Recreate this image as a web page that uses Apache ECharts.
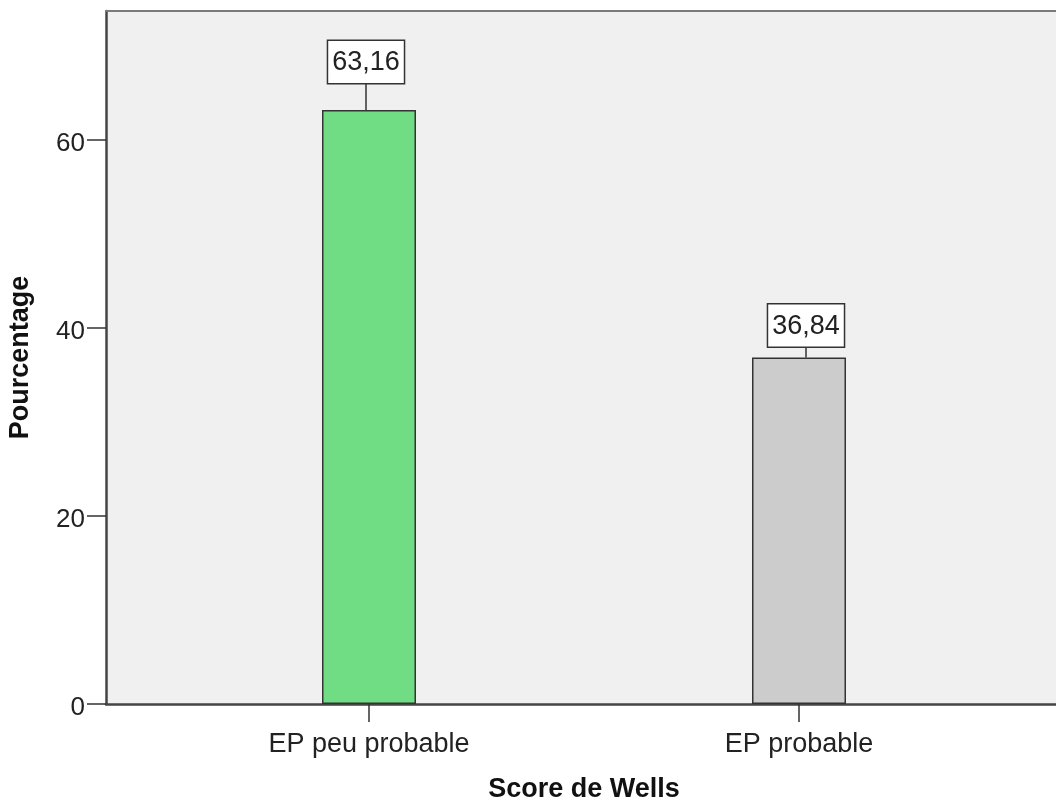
<!DOCTYPE html>
<html>
<head>
<meta charset="utf-8">
<script src="https://cdn.jsdelivr.net/npm/echarts@6/dist/echarts.min.js"></script>
<style>
  html, body { margin: 0; padding: 0; background: #ffffff; }
  #chart { width: 1056px; height: 800px; }
</style>
</head>
<body>
<div id="chart"></div>
<script>
// Score de Wells: share of patients per category (%)
const categories = ['EP peu probable', 'EP probable'];
const percentages = [63.16, 36.84];
const yTicks = [0, 20, 40, 60];

// Per-bar styling
const barColors = ['#70dc84', '#cccccc'];
const leaderLength = [27, 11];   // px between bar top and value box
const leaderShift = [-3, 7];     // px horizontal shift of the value box

const FONT = "'Liberation Sans', Arial, sans-serif";
const Y_MAX = 73.7;

const fmt = v => v.toFixed(2).replace('.', ',');

const chart = echarts.init(document.getElementById('chart'), null, { renderer: 'canvas' });

chart.setOption({
  animation: false,
  backgroundColor: '#ffffff',
  grid: [
    // frame + background, running past the right edge
    { left: 106, top: 11, bottom: 96, right: -40, show: true,
      outerBoundsMode: 'none', containLabel: false,
      backgroundColor: '#f0f0f0', borderWidth: 0 },
    // bar area
    { left: 154, top: 11, bottom: 96, right: 42,
      outerBoundsMode: 'none', containLabel: false }
  ],
  xAxis: [
    { gridIndex: 0, type: 'value', min: 0, max: 1, position: 'bottom',
      axisLine: { show: true, onZero: false, lineStyle: { color: '#444', width: 2.5 } },
      axisTick: { show: false }, axisLabel: { show: false }, splitLine: { show: false } },
    { gridIndex: 0, type: 'value', min: 0, max: 1, position: 'top',
      axisLine: { show: true, onZero: false, lineStyle: { color: '#7a7a7a', width: 2 } },
      axisTick: { show: false }, axisLabel: { show: false }, splitLine: { show: false } },
    { gridIndex: 1, type: 'category', data: categories,
      name: 'Score de Wells', nameLocation: 'middle', nameGap: 72,
      nameTextStyle: { fontFamily: FONT, fontSize: 27, fontWeight: 'bold', color: '#111' },
      axisLine: { show: false },
      axisTick: { show: true, alignWithLabel: true, length: 18, inside: false,
        lineStyle: { color: '#333', width: 1.5 } },
      axisLabel: { fontFamily: FONT, fontSize: 27, color: '#222', margin: 27 },
      splitLine: { show: false } }
  ],
  yAxis: [
    { gridIndex: 0, type: 'value', min: 0, max: Y_MAX,
      name: 'Pourcentage', nameLocation: 'middle', nameGap: 72, nameRotate: 90,
      nameTextStyle: { fontFamily: FONT, fontSize: 27, fontWeight: 'bold', color: '#111' },
      axisLine: { show: true, lineStyle: { color: '#444', width: 2.5 } },
      axisTick: { show: true, length: 19, customValues: yTicks,
        lineStyle: { color: '#333', width: 1.5 } },
      axisLabel: { fontFamily: FONT, fontSize: 26, color: '#222', margin: 21,
        customValues: yTicks,
        formatter: '{t|{value}}',
        rich: { t: { fontFamily: FONT, fontSize: 26, color: '#222', padding: [8, 0, 0, 0] } } },
      splitLine: { show: false } },
    { gridIndex: 1, type: 'value', min: 0, max: Y_MAX, show: false }
  ],
  series: [
    {
      type: 'bar',
      xAxisIndex: 2, yAxisIndex: 1,
      barWidth: 94,
      data: percentages.map((v, i) => ({
        value: v,
        itemStyle: { color: barColors[i], borderColor: '#333', borderWidth: 1.5 }
      })),
      z: 3
    },
    {
      type: 'custom',
      xAxisIndex: 2, yAxisIndex: 1,
      data: percentages.map((v, i) => [i, v]),
      z: 5,
      renderItem(params, api) {
        const i = api.value(0);
        const v = api.value(1);
        const top = api.coord([i, v]);
        const x = top[0] + leaderShift[i];
        const yEnd = top[1] - leaderLength[i];
        return {
          type: 'group',
          children: [
            { type: 'line',
              shape: { x1: x, y1: top[1], x2: x, y2: yEnd },
              style: { stroke: '#333', lineWidth: 1.5 } },
            { type: 'text', x: x, y: yEnd,
              style: {
                text: fmt(v), fontFamily: FONT, fontSize: 27, fill: '#222',
                align: 'center', verticalAlign: 'bottom',
                backgroundColor: '#ffffff', borderColor: '#333', borderWidth: 1.5,
                padding: [8, 4, 7, 4]
              } }
          ]
        };
      }
    }
  ]
});
</script>
</body>
</html>
